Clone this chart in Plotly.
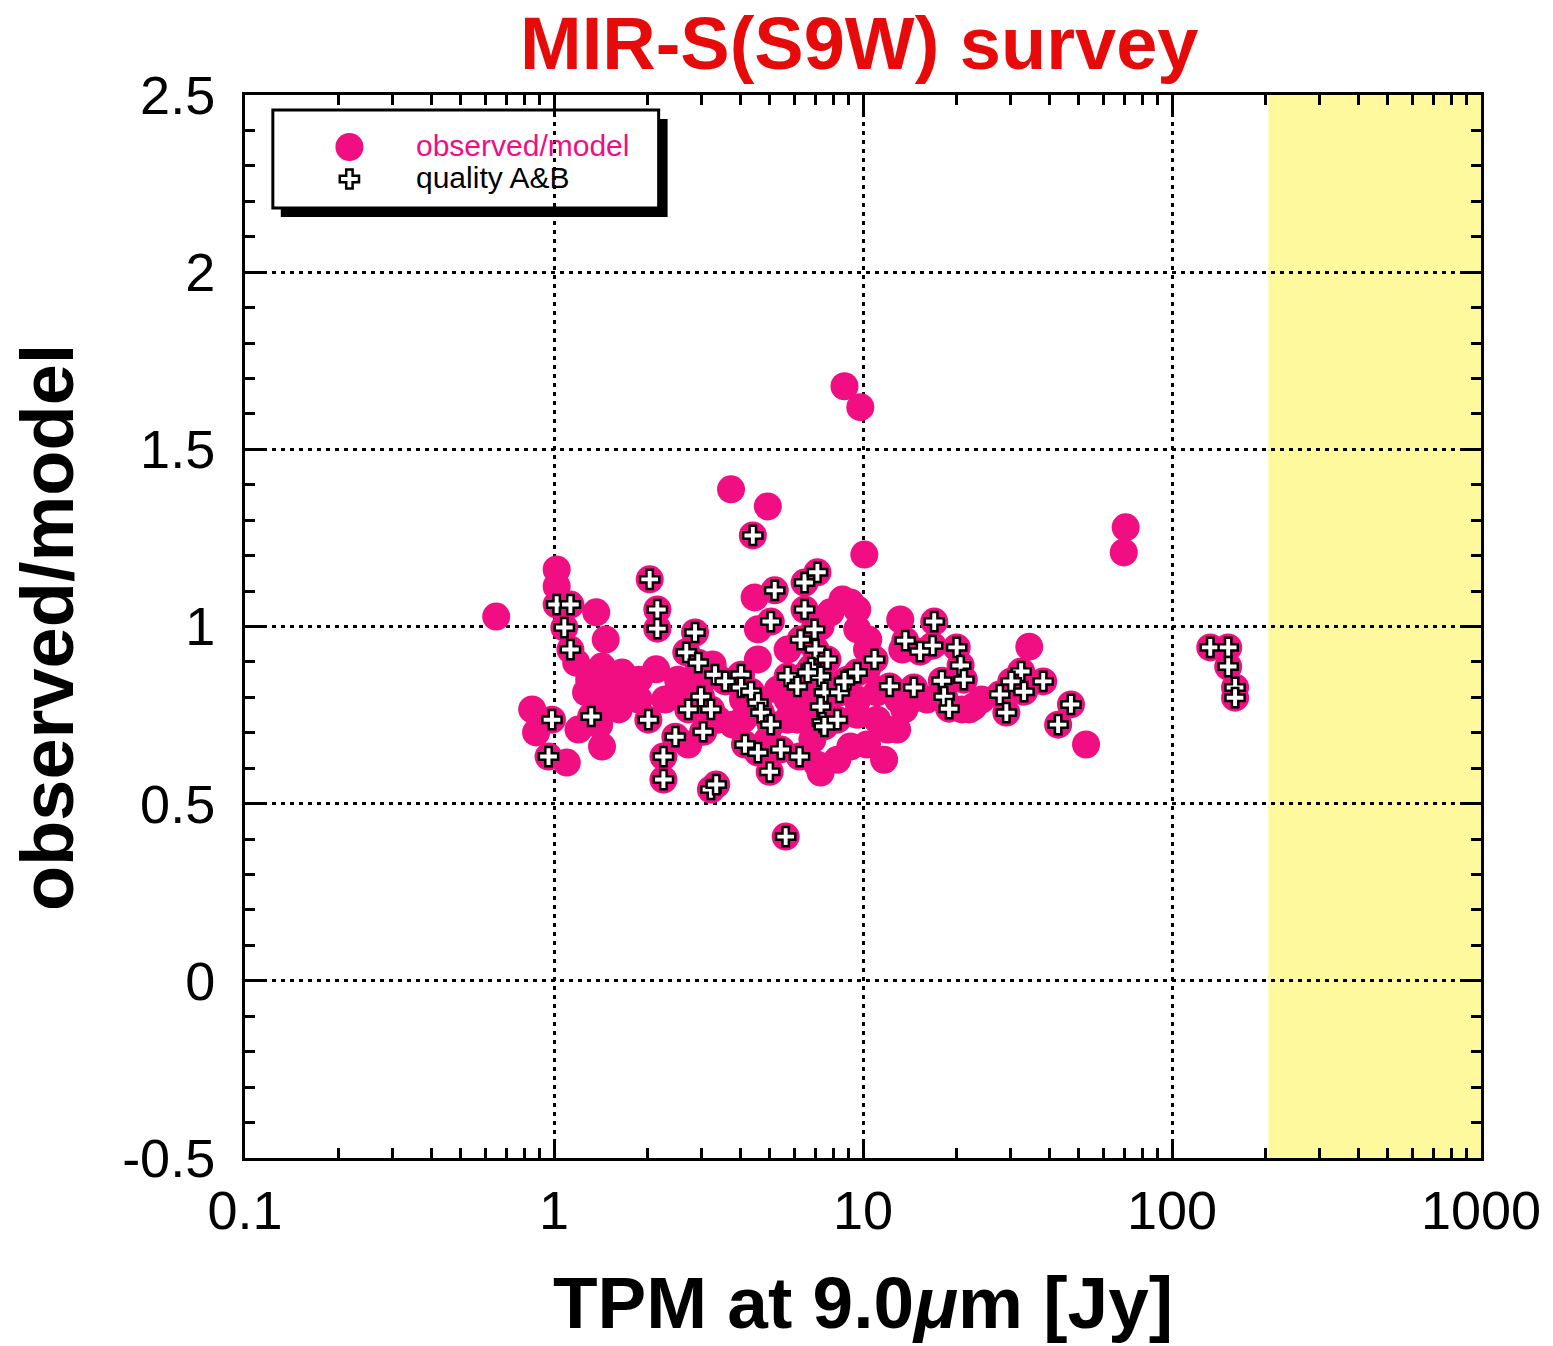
import plotly.graph_objects as go

# ---------------- data ----------------
# points with quality A&B (drawn as pink circle + cross)
x_ab = [1.02, 1.13, 1.08, 1.13, 0.985, 0.96, 1.32, 2.04, 2.16, 2.16, 2.02, 2.26, 2.26, 2.47,
        2.86, 2.68, 2.93, 3.32, 3.58, 4.03, 4.03, 4.34, 2.99, 2.72, 3.22, 4.57, 4.67, 5.03,
        3.04, 4.15, 4.57, 5.42, 6.23, 4.99, 3.22, 3.35, 5.62, 4.40, 5.18, 5.03, 6.47, 7.12,
        6.47, 6.97, 6.28, 7.02, 7.67, 6.80, 5.70, 7.29, 6.13, 8.90, 9.58, 10.9, 7.50, 8.39,
        7.29, 7.39, 8.26, 12.2, 14.6, 13.7, 17.0, 16.8, 15.3, 20.1, 20.7, 18.0, 21.2, 18.3,
        19.0, 32.5, 30.2, 38.3, 33.2, 27.7, 29.1, 47.1, 42.8, 133, 152, 152, 160, 160,
        6.62, 8.71, 7.50]
y_ab = [1.062, 1.062, 0.997, 0.935, 0.737, 0.633, 0.746, 1.133, 1.048, 0.994, 0.737, 0.633,
        0.568, 0.689, 0.983, 0.927, 0.898, 0.864, 0.845, 0.864, 0.828, 0.816, 0.802, 0.766,
        0.766, 0.785, 0.757, 0.723, 0.703, 0.667, 0.644, 0.653, 0.633, 0.590, 0.540, 0.554,
        0.407, 1.257, 1.102, 1.014, 1.124, 1.153, 1.048, 0.992, 0.963, 0.935, 0.907, 0.884,
        0.859, 0.859, 0.831, 0.850, 0.870, 0.907, 0.814, 0.814, 0.774, 0.729, 0.737, 0.831,
        0.828, 0.960, 1.014, 0.946, 0.929, 0.941, 0.890, 0.847, 0.850, 0.802, 0.768, 0.873,
        0.845, 0.845, 0.816, 0.808, 0.757, 0.780, 0.723, 0.941, 0.941, 0.887, 0.828, 0.799,
        0.870, 0.845, 0.718]

# remaining observed/model points (pink circle only)
x_other = [0.65, 1.02, 1.02, 1.37, 1.47, 1.18, 1.43, 1.66, 1.27, 1.47, 0.85, 0.875, 1.20,
           1.43, 1.10, 2.14, 2.29, 3.26, 3.74, 4.92, 4.46, 4.57, 4.09, 7.29, 7.85, 9.10,
           9.58, 8.71, 9.80, 10.1, 13.2, 11.1, 13.6, 9.10, 11.7, 7.29, 22.1, 34.5, 22.8,
           52.7, 70.8, 69.8, 5.70, 10.4, 11.1, 9.58, 13.0, 6.13, 6.86, 3.04, 1.74, 2.52,
           1.50, 9.58, 12.0, 16.1, 10.3,
           8.58, 10.3, 11.5, 9.58, 12.9, 10.3, 7.12, 8.26, 14.4, 13.4, 20.9, 24.2, 5.70,
           4.92, 6.62, 5.30, 3.39, 2.72, 3.79, 1.88, 1.62, 1.30, 1.88, 1.40, 2.52, 4.09,
           4.57, 5.70]
y_other = [1.028, 1.161, 1.113, 1.040, 0.963, 0.898, 0.887, 0.870, 0.814, 0.774, 0.766, 0.701,
           0.709, 0.661, 0.616, 0.879, 0.794, 0.893, 1.387, 1.339, 1.082, 0.907, 0.737, 1.000,
           1.040, 1.068, 0.992, 1.678, 1.619, 1.203, 1.020, 0.814, 0.766, 0.661, 0.624, 0.588,
           0.766, 0.943, 0.774, 0.667, 1.280, 1.209, 0.794, 0.963, 0.737, 0.794, 0.794, 0.737,
           0.681, 0.850, 0.808, 0.822, 0.822, 1.048, 0.709, 0.794, 0.879,
           1.076, 0.935, 0.822, 0.751, 0.709, 0.667, 0.610, 0.624, 0.794, 0.935, 0.766, 0.794,
           0.737, 0.681, 0.794, 0.822, 0.737, 0.667, 0.723, 0.794, 0.766, 0.850, 0.850, 0.723,
           0.850, 0.794, 0.992, 0.935]

x_ticks = [0.1, 1, 10, 100, 1000]
x_ticktext = ["0.1", "1", "10", "100", "1000"]
y_ticks = [-0.5, 0, 0.5, 1, 1.5, 2, 2.5]
y_ticktext = ["-0.5", "0", "0.5", "1", "1.5", "2", "2.5"]
band_x = [205, 1000]          # shaded (yellow) flux range
y_range = [-0.5, 2.5]

PINK = "#F00E82"
FONT = "Liberation Sans, Arial, sans-serif"
W, H = 1553, 1346
ML, MR, MT, MB = 245, 65, 95, 188
PW, PH = W - ML - MR, H - MT - MB


def px(xp):   # pixel -> paper (layout positioning helper)
    return (xp - ML) / PW


def py(yp):
    return (H - MB - yp) / PH


fig = go.Figure()

fig.add_trace(go.Scatter(
    x=x_other + x_ab, y=y_other + y_ab, mode="markers", name="observed/model",
    marker=dict(symbol="circle", size=28, color=PINK, line=dict(width=0)),
    showlegend=False, hoverinfo="x+y"))

fig.add_trace(go.Scatter(
    x=x_ab, y=y_ab, mode="markers", name="quality A&B",
    marker=dict(symbol="cross", size=16, color="white", line=dict(color="black", width=2.5)),
    showlegend=False, hoverinfo="x+y"))

# legend markers on a hidden overlay axis spanning the plot area
fig.add_trace(go.Scatter(
    x=[px(350)], y=[py(147)], xaxis="x2", yaxis="y2", mode="markers",
    marker=dict(symbol="circle", size=28, color=PINK), showlegend=False, hoverinfo="skip"))
fig.add_trace(go.Scatter(
    x=[px(350)], y=[py(179)], xaxis="x2", yaxis="y2", mode="markers",
    marker=dict(symbol="cross", size=16, color="white", line=dict(color="black", width=2.5)),
    showlegend=False, hoverinfo="skip"))

shapes = [
    dict(type="rect", xref="x", yref="y", x0=band_x[0], x1=band_x[1], y0=y_range[0], y1=y_range[1],
         fillcolor="#FFF99D", line=dict(width=0), layer="below"),
    # legend shadow + box
    dict(type="rect", xref="paper", yref="paper", x0=px(281), x1=px(670), y0=py(217), y1=py(119),
         fillcolor="black", line=dict(width=0), layer="between"),
    dict(type="rect", xref="paper", yref="paper", x0=px(273), x1=px(661), y0=py(208), y1=py(110),
         fillcolor="white", line=dict(color="black", width=3), layer="between"),
]

annotations = [
    dict(text="MIR-S(S9W) survey", xref="paper", yref="paper", x=px(862), y=py(44),
         xanchor="center", yanchor="middle", showarrow=False,
         font=dict(family=FONT, size=74, color="#E60A0A", weight="bold")),
    dict(text="TPM at 9.0<i>μ</i>m [Jy]", xref="paper", yref="paper", x=px(867), y=py(1302),
         xanchor="center", yanchor="middle", showarrow=False,
         font=dict(family=FONT, size=73, color="black", weight="bold")),
    dict(text="observed/model", xref="paper", yref="paper", x=px(46), y=py(627), textangle=-90,
         xanchor="center", yanchor="middle", showarrow=False,
         font=dict(family=FONT, size=74, color="black", weight="bold")),
    dict(text="observed/model", xref="paper", yref="paper", x=px(415), y=py(145),
         xanchor="left", yanchor="middle", showarrow=False,
         font=dict(family=FONT, size=30, color=PINK)),
    dict(text="quality A&amp;B", xref="paper", yref="paper", x=px(415), y=py(177),
         xanchor="left", yanchor="middle", showarrow=False,
         font=dict(family=FONT, size=30, color="black")),
]

axis_common = dict(
    showline=True, linewidth=3, linecolor="black", mirror="allticks",
    ticks="inside", ticklen=18, tickwidth=3, tickcolor="black",
    showgrid=True, gridcolor="black", gridwidth=3, griddash="4px,5px",
    zeroline=False, tickfont=dict(family=FONT, size=54, color="black"),
    layer="above traces",
)

fig.update_layout(
    width=W, height=H,
    margin=dict(l=ML, r=MR, t=MT, b=MB, pad=0),
    paper_bgcolor="white", plot_bgcolor="white",
    xaxis=dict(type="log", range=[-1, 3], tickmode="array", tickvals=x_ticks, ticktext=x_ticktext,
               ticklabelstandoff=3,
               minor=dict(ticks="inside", ticklen=10, tickwidth=3, tickcolor="black",
                          dtick="D1", showgrid=False),
               **axis_common),
    yaxis=dict(range=y_range, tickmode="array", tickvals=y_ticks, ticktext=y_ticktext,
               ticklabelstandoff=16,
               minor=dict(ticks="inside", ticklen=10, tickwidth=3, tickcolor="black",
                          dtick=0.1, showgrid=False),
               **axis_common),
    xaxis2=dict(overlaying="x", range=[0, 1], visible=False, fixedrange=True),
    yaxis2=dict(overlaying="y", range=[0, 1], visible=False, fixedrange=True),
    shapes=shapes, annotations=annotations, showlegend=False,
)

fig.write_html("out.html")
